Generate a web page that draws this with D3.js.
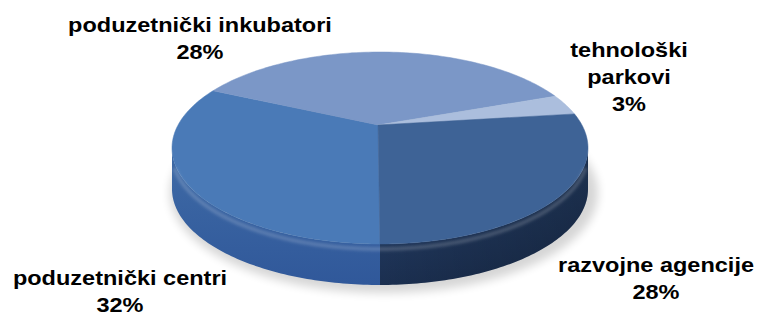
<!DOCTYPE html>
<html>
<head>
<meta charset="utf-8">
<script src="https://cdn.jsdelivr.net/npm/d3@7"></script>
<style>
  body { margin: 0; background: #fff; }
  text { font-family: "Liberation Sans", Arial, sans-serif; font-weight: bold; font-size: 21px; fill: #000; }
</style>
</head>
<body>
<div id="chart"></div>
<script>
// data
var categories = ["poduzetnički centri", "poduzetnički inkubatori", "tehnološki parkovi", "razvojne agencije"];
var values = [32, 28, 3, 28];
var labelLines = [["poduzetnički centri"], ["poduzetnički inkubatori"], ["tehnološki", "parkovi"], ["razvojne agencije"]];

var width = 758, height = 318;

// pie geometry (3d look)
var cx = 380, cy = 148, rx = 208, ry = 96, depth = 41;
var apex = { x: 378, y: 125 };

var topColors = ["#4a7ab7", "#7b97c7", "#abbedd", "#3e6396"];
var sideTop = ["#3f6ba6", "#5f7fb4", "#8ea6cf", "#27436d"];
var sideBot = ["#30589a", "#4a6aa0", "#7891c0", "#1b2f50"];

var svg = d3.select("#chart").append("svg")
    .attr("width", width)
    .attr("height", height);

var defs = svg.append("defs");
defs.append("filter").attr("id", "blur")
    .attr("x", "-20%").attr("y", "-20%").attr("width", "140%").attr("height", "140%")
    .append("feGaussianBlur").attr("stdDeviation", 5);
defs.append("filter").attr("id", "soft")
    .append("feGaussianBlur").attr("stdDeviation", 1.5);

categories.forEach(function(c, i) {
    var g = defs.append("linearGradient").attr("id", "side" + i)
        .attr("x1", 0).attr("y1", 0).attr("x2", 0).attr("y2", 1);
    g.append("stop").attr("offset", "0%").attr("stop-color", sideTop[i]);
    g.append("stop").attr("offset", "100%").attr("stop-color", sideBot[i]);
});

var pie = d3.pie().sort(null)
    .startAngle(Math.PI)
    .endAngle(3 * Math.PI)
    .value(function(d) { return d; });
var arcs = pie(values);

function rim(a, dy) {
    return [cx + rx * Math.sin(a), cy - ry * Math.cos(a) + (dy || 0)];
}
function arcPoints(a0, a1, dy) {
    var n = Math.max(2, Math.ceil(Math.abs(a1 - a0) / 0.02));
    var pts = [];
    for (var k = 0; k <= n; k++) pts.push(rim(a0 + (a1 - a0) * k / n, dy));
    return pts;
}
var line = d3.line();

// shadow under the pie
svg.append("ellipse")
    .attr("cx", cx + 4)
    .attr("cy", cy + depth + 4)
    .attr("rx", rx + 6)
    .attr("ry", ry + 4)
    .attr("fill", "#000")
    .attr("opacity", 0.16)
    .attr("filter", "url(#blur)");

// side walls: only the front half (angle between PI/2 and 3PI/2)
arcs.forEach(function(d, i) {
    [[Math.PI / 2, 1.5 * Math.PI], [2.5 * Math.PI, 3.5 * Math.PI]].forEach(function(r) {
        var a0 = Math.max(d.startAngle, r[0]), a1 = Math.min(d.endAngle, r[1]);
        if (a1 <= a0) return;
        var pts = arcPoints(a0, a1, 0).concat(arcPoints(a1, a0, depth));
        svg.append("path")
            .attr("d", line(pts) + "Z")
            .attr("fill", "url(#side" + i + ")");
    });
});

// darker right end of the agencije wall
var shade = defs.append("linearGradient").attr("id", "shadeR")
    .attr("x1", 0).attr("y1", 0).attr("x2", 1).attr("y2", 0);
shade.append("stop").attr("offset", "0%").attr("stop-color", "#000").attr("stop-opacity", 0);
shade.append("stop").attr("offset", "100%").attr("stop-color", "#000").attr("stop-opacity", 0.25);
svg.append("path")
    .attr("d", line(arcPoints(Math.PI / 2, Math.PI, 0).concat(arcPoints(Math.PI, Math.PI / 2, depth))) + "Z")
    .attr("fill", "url(#shadeR)");

// top faces
arcs.forEach(function(d, i) {
    var pts = [[apex.x, apex.y]].concat(arcPoints(d.startAngle, d.endAngle, 0));
    svg.append("path")
        .attr("d", line(pts) + "Z")
        .attr("fill", topColors[i])
        .attr("stroke", topColors[i])
        .attr("stroke-width", 0.5);
});

// soft bevel highlight along the front rim
svg.append("path")
    .attr("d", line(arcPoints(0.55 * Math.PI, 1.45 * Math.PI, 5)))
    .attr("fill", "none")
    .attr("stroke", "#fff")
    .attr("stroke-opacity", 0.18)
    .attr("stroke-width", 4)
    .attr("filter", "url(#soft)");

// labels
var labelPos = [
    { x: 120, y: 285 },
    { x: 200, y: 32 },
    { x: 629, y: 57 },
    { x: 656, y: 272 }
];
var lh = 27, sx = 1.12;
arcs.forEach(function(d, i) {
    var t = svg.append("text")
        .attr("text-anchor", "middle")
        .attr("transform", "translate(" + labelPos[i].x + "," + labelPos[i].y + ") scale(" + sx + ",1)");
    labelLines[i].concat([values[i] + "%"]).forEach(function(s, k) {
        t.append("tspan")
            .attr("x", 0)
            .attr("dy", k === 0 ? 0 : lh)
            .text(s);
    });
});
</script>
</body>
</html>
